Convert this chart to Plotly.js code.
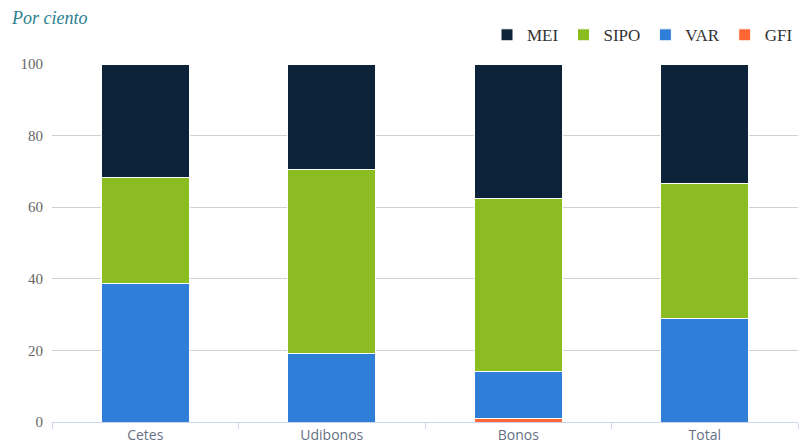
<!DOCTYPE html>
<html><head><meta charset="utf-8">
<script src="https://cdn.plot.ly/plotly-3.0.1.min.js"></script>
<style>html,body{margin:0;padding:0;background:#fff}#chart{width:799px;height:448px}</style>
</head><body><div id="chart"></div>
<script>
const categories = ["Cetes", "Udibonos", "Bonos", "Total"];
const GFI = [0, 0, 1.1, 0];
const VAR = [38.8, 19.0, 13.1, 28.8];
const SIPO = [29.6, 51.4, 48.1, 37.7];
const MEI = [31.6, 29.6, 37.7, 33.5];

const mk = (name, y, color) => ({
  type: "bar", name, x: categories, y,
  marker: {color, line: {color: "#ffffff", width: 1}},
  hoverinfo: "name+y"
});
const data = [
  mk("GFI", GFI, "#ff6633"),
  mk("VAR", VAR, "#2f7ed8"),
  mk("SIPO", SIPO, "#8bbc21"),
  mk("MEI", MEI, "#0d233a")
];
const layout = {
  width: 799, height: 448,
  margin: {l: 52, r: 1, t: 64, b: 26},
  barmode: "stack", bargap: 0.53,
  paper_bgcolor: "#fff", plot_bgcolor: "#fff",
  font: {family: "Liberation Serif, DejaVu Serif, serif", color: "#666"},
  title: {text: "<i>Por ciento</i>", x: 0.015, xanchor: "left", y: 0.975, yanchor: "top",
          font: {family: "Liberation Serif, DejaVu Serif, serif", size: 18, color: "#2a7f8f"}},
  showlegend: true,
  legend: {orientation: "h", traceorder: "reversed", x: 1, xanchor: "right", y: 1.03, yanchor: "bottom",
           font: {family: "Liberation Serif, DejaVu Serif, serif", size: 17, color: "#333"},
           itemwidth: 30},
  xaxis: {type: "category", tickson: "boundaries", ticks: "outside", ticklen: 6, tickcolor: "#ccd6eb",
          showline: true, linecolor: "#ccd6eb", linewidth: 1, showgrid: false,
          tickfont: {family: "Open Sans, Lato, sans-serif", size: 14, color: "#667085"}},
  yaxis: {range: [0, 100], dtick: 20, showgrid: true, gridcolor: "#d0d0d0", zeroline: false,
          ticks: "", tickfont: {family: "Liberation Serif, DejaVu Serif, serif", size: 15, color: "#666"},
          ticklabelstandoff: 8}
};
Plotly.newPlot("chart", data, layout, {displayModeBar: false});
</script></body></html>
